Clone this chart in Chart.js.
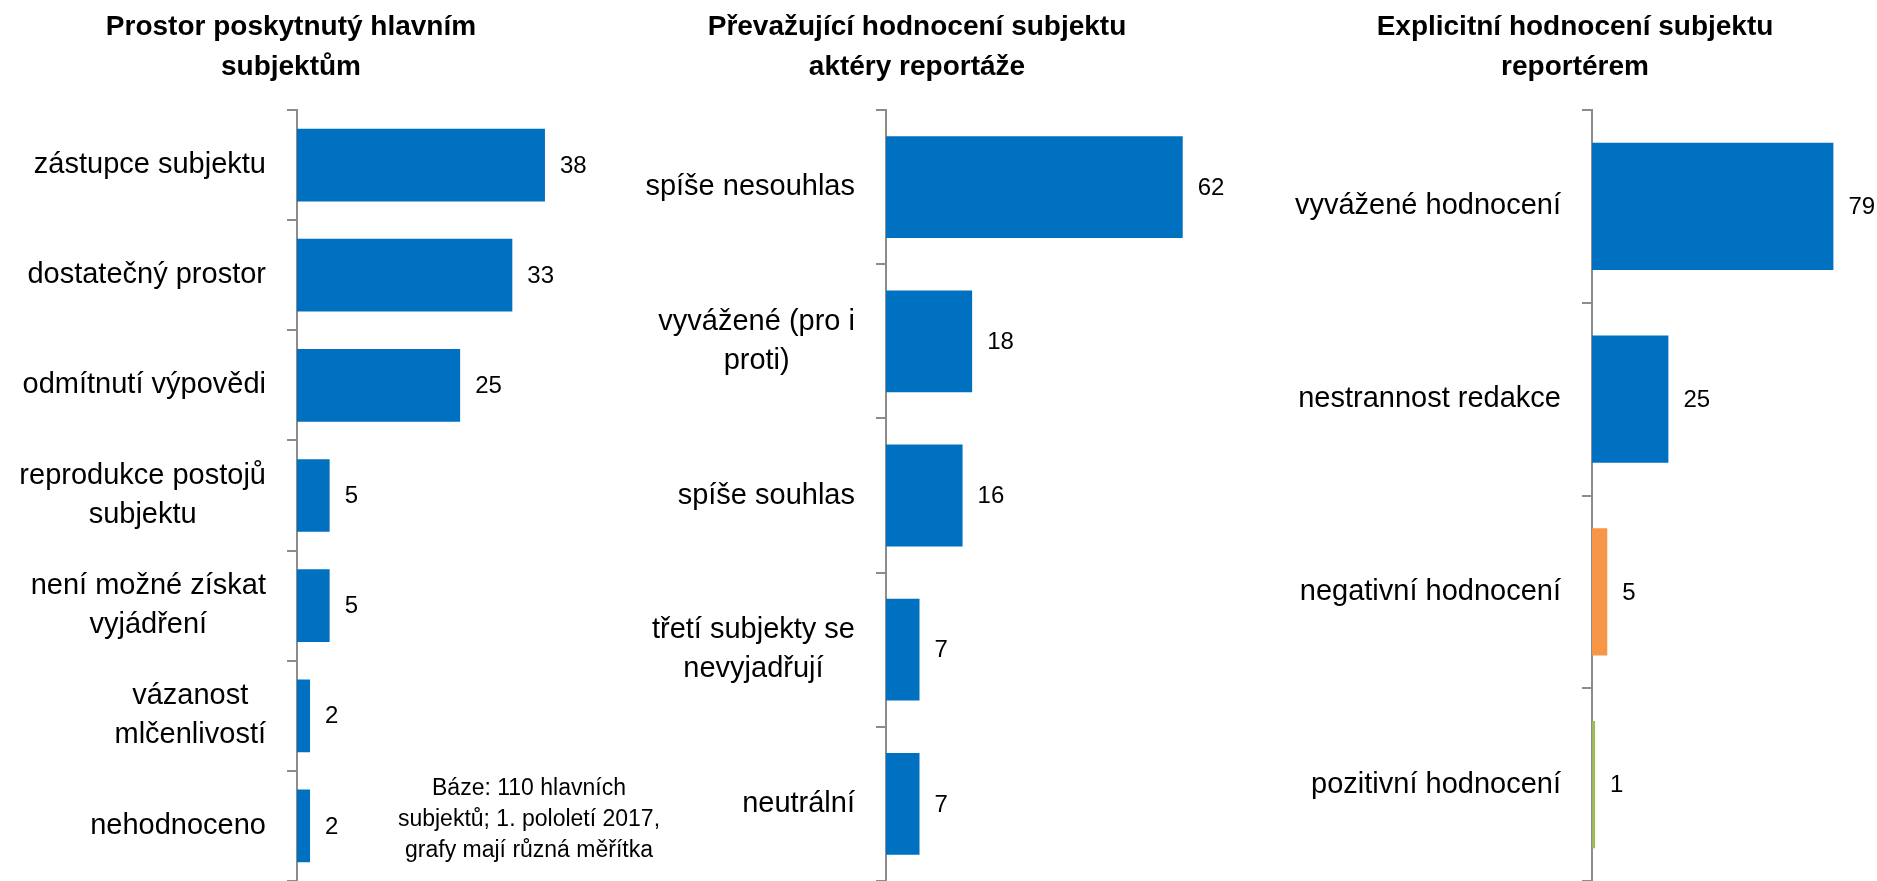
<!DOCTYPE html>
<html lang="cs">
<head>
<meta charset="utf-8">
<title>Hodnocení subjektů</title>
<script src="https://cdn.jsdelivr.net/npm/chart.js@4.4.1/dist/chart.umd.min.js"></script>
<style>
    html, body { margin: 0; padding: 0; background: #fff; }
    #page { position: relative; width: 1877px; height: 881px; overflow: hidden; font-family: "Liberation Sans", Arial, sans-serif; }
    canvas { position: absolute; top: 0; }
    .title { position: absolute; top: 6px; width: 600px; text-align: center; font-weight: bold; font-size: 28px; line-height: 40px; color: #000; }
    .note { position: absolute; top: 772px; left: 329px; width: 400px; text-align: center; font-size: 23px; line-height: 31px; color: #000; }
</style>
</head>
<body>
<div id="page">
    <canvas id="spaceChart" width="640" height="881" style="left:0px"></canvas>
    <canvas id="actorChart" width="680" height="881" style="left:600px"></canvas>
    <canvas id="reporterChart" width="607" height="881" style="left:1270px"></canvas>
    <div class="title" style="left:-9px">Prostor poskytnutý hlavním<br>subjektům</div>
    <div class="title" style="left:617px">Převažující hodnocení subjektu<br>aktéry reportáže</div>
    <div class="title" style="left:1275px">Explicitní hodnocení subjektu<br>reportérem</div>
    <div class="note">Báze: 110 hlavních<br>subjektů; 1. pololetí 2017,<br>grafy mají různá měřítka</div>
</div>
<script>
// Chart 1 - space given to main subjects
const spaceLabels = [
    ['zástupce subjektu'],
    ['dostatečný prostor'],
    ['odmítnutí výpovědi'],
    ['reprodukce postojů', 'subjektu'],
    ['není možné získat', 'vyjádření'],
    ['vázanost', 'mlčenlivostí'],
    ['nehodnoceno']
];
const spaceValues = [38, 33, 25, 5, 5, 2, 2];
const spaceColors = ['#0070C0', '#0070C0', '#0070C0', '#0070C0', '#0070C0', '#0070C0', '#0070C0'];

// Chart 2 - prevailing evaluation by actors of the report
const actorLabels = [
    ['spíše nesouhlas'],
    ['vyvážené (pro i', 'proti)'],
    ['spíše souhlas'],
    ['třetí subjekty se', 'nevyjadřují'],
    ['neutrální']
];
const actorValues = [62, 18, 16, 7, 7];
const actorColors = ['#0070C0', '#0070C0', '#0070C0', '#0070C0', '#0070C0'];

// Chart 3 - explicit evaluation by the reporter
const reporterLabels = [
    ['vyvážené hodnocení'],
    ['nestrannost redakce'],
    ['negativní hodnocení'],
    ['pozitivní hodnocení']
];
const reporterValues = [79, 25, 5, 1];
const reporterColors = ['#0070C0', '#0070C0', '#F79646', '#9BBB59'];

const FONT = '"Liberation Sans", Arial, sans-serif';
const AXIS_GRAY = '#8c8c8c';

// Excel style category labels: block right aligned, lines centred inside the block
const categoryLabelPlugin = {
    id: 'categoryLabels',
    afterDraw(chart) {
        const ctx = chart.ctx;
        const yScale = chart.scales.y;
        const right = chart.chartArea.left - 31;
        const lineHeight = 39;
        ctx.save();
        ctx.font = '29px ' + FONT;
        ctx.fillStyle = '#000';
        ctx.textAlign = 'center';
        ctx.textBaseline = 'middle';
        chart.data.labels.forEach((lines, i) => {
            const blockWidth = Math.max(...lines.map(l => ctx.measureText(l).width));
            const cx = right - blockWidth / 2;
            const cy = yScale.getPixelForTick(i);
            lines.forEach((line, j) => {
                ctx.fillText(line, cx, cy + (j - (lines.length - 1) / 2) * lineHeight);
            });
        });
        ctx.restore();
    }
};

// Value labels just past the end of each bar
const valueLabelPlugin = {
    id: 'valueLabels',
    afterDatasetsDraw(chart) {
        const ctx = chart.ctx;
        ctx.save();
        ctx.font = '24px ' + FONT;
        ctx.fillStyle = '#000';
        ctx.textAlign = 'left';
        ctx.textBaseline = 'middle';
        chart.getDatasetMeta(0).data.forEach((bar, i) => {
            ctx.fillText(String(chart.data.datasets[0].data[i]), bar.x + 15, bar.y + 1);
        });
        ctx.restore();
    }
};

function makeChart(canvasId, labels, values, colors, maxValue, axisOffset, plotWidth) {
    const canvas = document.getElementById(canvasId);
    const padRight = canvas.width - axisOffset - plotWidth;
    return new Chart(canvas.getContext('2d'), {
        type: 'bar',
        data: {
            labels,
            datasets: [{
                data: values,
                backgroundColor: colors,
                borderWidth: 0,
                categoryPercentage: 1,
                barPercentage: 0.66
            }]
        },
        options: {
            indexAxis: 'y',
            responsive: false,
            animation: false,
            layout: { padding: { top: 110, bottom: 0, left: 0, right: padRight } },
            plugins: { legend: { display: false }, tooltip: { enabled: false }, title: { display: false } },
            scales: {
                x: { display: false, min: 0, max: maxValue },
                y: {
                    z: 1,
                    ticks: { display: false },
                    grid: { display: true, drawOnChartArea: false, drawTicks: true, tickLength: 10, color: AXIS_GRAY, lineWidth: 2 },
                    border: { display: true, color: AXIS_GRAY, width: 2 },
                    afterFit: (scale) => { scale.width = axisOffset; }
                }
            }
        },
        plugins: [categoryLabelPlugin, valueLabelPlugin]
    });
}

document.addEventListener('DOMContentLoaded', function () {
    makeChart('spaceChart', spaceLabels, spaceValues, spaceColors, 40, 297, 261);
    makeChart('actorChart', actorLabels, actorValues, actorColors, 70, 286, 335);
    makeChart('reporterChart', reporterLabels, reporterValues, reporterColors, 90, 322, 275);
});
</script>
</body>
</html>
